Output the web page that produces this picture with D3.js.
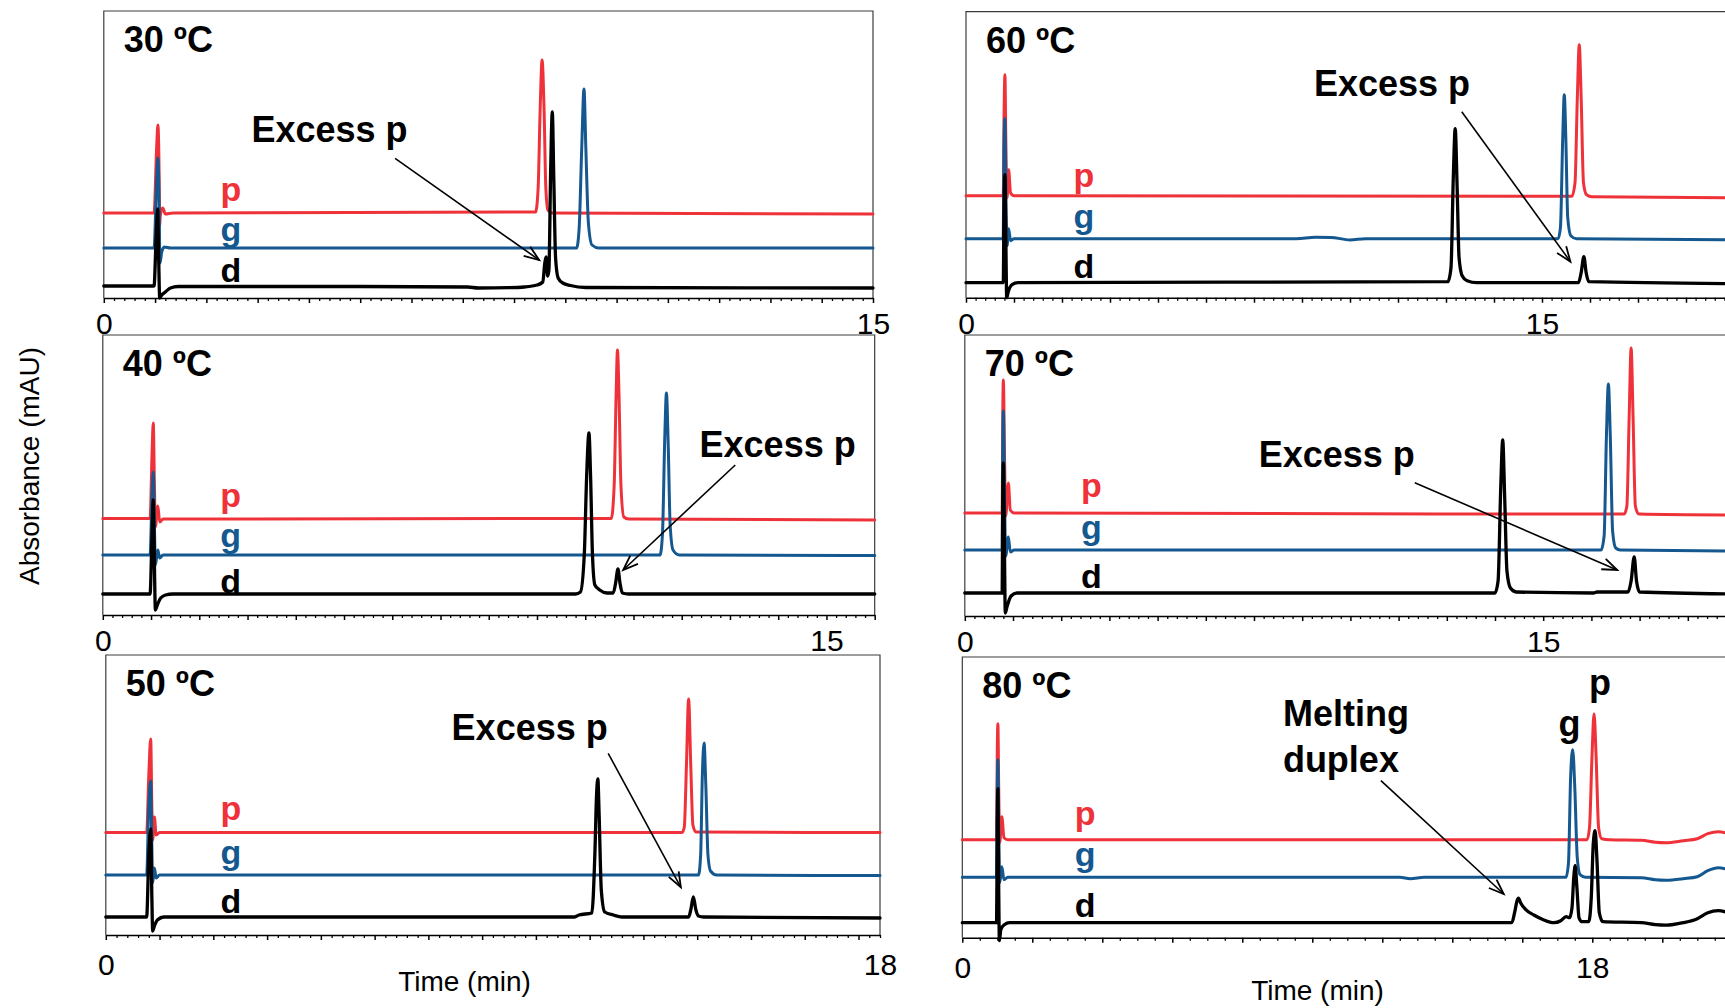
<!DOCTYPE html>
<html>
<head>
<meta charset="utf-8">
<script src="https://cdn.jsdelivr.net/npm/d3@7"></script>
<style>
  html, body { margin: 0; padding: 0; background: #fff; }
  svg { display: block; font-family: "Liberation Sans", Arial, Helvetica, sans-serif; }
</style>
</head>
<body>
<svg id="chart" width="1725" height="1008"></svg>
<script>
// ---- Panels: column temperature for each chromatogram set ----
const temperatures = ["30 ºC", "40 ºC", "50 ºC", "60 ºC", "70 ºC", "80 ºC"];
const seriesNames = ["p", "g", "d"];
const seriesColors = ["#ef3239", "#14588f", "#000000"];

// ---- Time axes (min) ----
const timeDomains = [[0, 15], [0, 16], [0, 18], [0, 20], [0, 20], [0, 22]];
const majorSteps = [1, 1, 1.25, 1.25, 1.25, 2];
const minorSteps = [0.2, 0.2, 0.25, 0.25, 0.25, 0.5];
const tickLabels = [[0, 15], [0, 15], [0, 18], [0, 15], [0, 15], [0, 18]];

// ---- Chromatograms: [time (min), absorbance (mAU, stacked offset)] ----
// 30 ºC
const p30 = [[0,85],[0.98,85],[1.03,150],[1.055,173],[1.08,120],[1.09,72],[1.1,82],[1.15,90],[1.2,84],[1.35,85],[8.42,86],[8.47,110],[8.51,190],[8.547,238],[8.585,190],[8.62,110],[8.66,88],[8.75,85],[15,84]];
const g30 = [[0,50],[0.98,50],[1.03,118],[1.055,140],[1.08,90],[1.095,35],[1.13,46],[1.18,51],[1.3,50],[9.22,50],[9.27,70],[9.32,150],[9.364,209],[9.4,150],[9.45,75],[9.52,53],[9.65,50],[15,50]];
const d30 = [[0,12],[0.98,12],[1.02,60],[1.05,89],[1.07,40],[1.09,0],[1.13,3],[1.2,6],[1.3,10],[1.45,11.5],[5.0,11.5],[7.1,11],[7.3,10],[7.9,10.3],[8.2,11],[8.45,13],[8.56,16],[8.6,35],[8.625,41],[8.655,22],[8.68,28],[8.715,130],[8.746,186],[8.775,120],[8.81,40],[8.86,20],[8.95,15],[9.1,12.5],[9.4,10.5],[15,10]];
// 40 ºC
const p40 = [[0,96.5],[0.98,96.5],[1.02,160],[1.046,192],[1.07,130],[1.09,88],[1.14,109],[1.18,93],[1.25,96],[10.54,96.5],[10.6,130],[10.64,220],[10.668,265],[10.7,220],[10.74,130],[10.8,98],[10.9,96],[16,95]];
const g40 = [[0,60],[0.98,60],[1.02,120],[1.046,143],[1.07,90],[1.09,50],[1.14,65],[1.18,57],[1.25,60],[11.55,60],[11.6,80],[11.65,180],[11.683,222],[11.72,170],[11.76,90],[11.82,65],[11.95,60],[16,59.5]];
const d40 = [[0,21],[0.98,21],[1.02,80],[1.046,115],[1.07,50],[1.09,5],[1.13,10],[1.2,17],[1.3,20],[1.45,21],[9.8,21],[9.9,23],[9.98,60],[10.03,140],[10.077,182],[10.11,140],[10.15,60],[10.2,30],[10.3,25],[10.45,22],[10.58,22],[10.63,32],[10.678,46],[10.72,32],[10.77,22],[10.9,21],[16,21]];
// 50 ºC
const p50 = [[0,102.5],[0.95,102.5],[1.0,160],[1.044,196],[1.07,130],[1.09,95],[1.13,118],[1.17,100],[1.25,102.5],[13.4,102.5],[13.45,108],[13.5,170],[13.55,236],[13.6,170],[13.65,110],[13.72,103],[18,102.5]];
const g50 = [[0,60],[0.95,60],[1.0,130],[1.044,154],[1.07,90],[1.09,52],[1.13,67],[1.17,57],[1.25,60],[13.78,60],[13.83,80],[13.87,160],[13.91,192],[13.95,150],[14.0,80],[14.06,64],[14.2,60],[18,59.5]];
const d50 = [[0,18],[0.95,18],[1.0,80],[1.044,106],[1.07,40],[1.09,4],[1.13,9],[1.2,15],[1.35,18],[10.9,18],[11.0,20],[11.3,22],[11.37,80],[11.41,140],[11.44,156],[11.47,120],[11.52,45],[11.6,23],[11.8,20],[12.0,18],[13.55,18],[13.6,25],[13.66,38],[13.72,25],[13.78,19],[13.9,18],[18,17]];
// 60 ºC
const p60 = [[0,102],[0.97,102],[0.99,180],[1.013,223],[1.04,150],[1.07,100],[1.11,128],[1.16,105],[1.25,102],[15.78,101.5],[15.86,115],[15.92,200],[15.97,253],[16.02,200],[16.08,115],[16.16,103],[16.3,101],[20,100]];
const g60 = [[0,59],[0.97,59],[0.99,150],[1.013,179],[1.04,100],[1.07,52],[1.11,69],[1.16,57],[1.25,59],[8.6,59],[9.1,60.5],[9.5,60.3],[10.0,57.8],[10.4,59],[15.42,59],[15.48,70],[15.54,160],[15.58,203],[15.62,160],[15.67,80],[15.75,62],[15.9,59],[20,58]];
const d60 = [[0,15],[0.97,15],[0.99,90],[1.013,123],[1.04,50],[1.06,0],[1.1,6],[1.2,13],[1.35,15],[12.55,16],[12.63,30],[12.69,120],[12.74,169],[12.79,110],[12.84,40],[12.92,22],[13.05,17],[13.3,15],[15.95,15],[16.02,25],[16.09,41],[16.15,25],[16.22,16],[20,14]];
// 70 ºC
const p70 = [[0,103],[0.97,103],[0.985,200],[1.0,236],[1.03,160],[1.06,100],[1.13,133],[1.18,106],[1.28,103],[17.1,102],[17.17,110],[17.23,200],[17.28,268],[17.33,200],[17.39,110],[17.48,102],[20,101]];
const g70 = [[0,66],[0.97,66],[0.985,170],[1.0,205],[1.03,120],[1.06,60],[1.13,79],[1.18,64],[1.28,66],[16.5,66],[16.58,80],[16.64,180],[16.69,232],[16.74,180],[16.8,85],[16.88,68],[17.0,66],[20,65]];
const d70 = [[0,23],[0.97,23],[0.985,120],[1.0,153],[1.03,60],[1.05,3],[1.1,10],[1.2,20],[1.35,23],[13.75,23],[13.83,35],[13.9,130],[13.95,176],[14.0,120],[14.06,45],[14.15,28],[14.3,24],[16.3,23],[16.4,24],[17.2,24],[17.28,35],[17.36,59],[17.42,35],[17.5,24],[20,22]];
// 80 ºC
const p80 = [[0,98],[0.98,98],[1.0,190],[1.017,214],[1.04,150],[1.07,95],[1.13,121],[1.19,100],[1.3,98],[17.85,98],[17.92,110],[17.99,180],[18.05,224],[18.11,180],[18.18,110],[18.27,99],[18.5,98],[19.4,97.5],[19.8,95.5],[20.1,95],[20.6,97],[21.0,99],[21.3,104],[21.6,106],[21.9,104],[22,103]];
const g80 = [[0,60.5],[0.98,60.5],[1.0,150],[1.017,178],[1.04,110],[1.07,55],[1.13,71],[1.19,58],[1.3,60.5],[12.5,60.5],[12.8,59],[13.2,60.5],[17.25,60.5],[17.32,75],[17.38,160],[17.44,188],[17.5,150],[17.57,80],[17.65,63],[17.8,60.5],[19.4,60],[19.8,58],[20.1,57.5],[20.6,59],[21.0,61],[21.3,67],[21.6,70],[21.9,68],[22,67]];
const d80 = [[0,15],[0.98,15],[1.0,110],[1.017,149],[1.04,50],[1.06,-3],[1.1,8],[1.2,13],[1.35,15],[15.7,15],[15.78,25],[15.85,37],[15.89,39.5],[15.95,35],[16.1,28],[16.33,22.7],[16.6,18],[16.9,15],[17.1,17],[17.25,21],[17.35,20],[17.42,30],[17.47,60],[17.51,72],[17.56,50],[17.62,20],[17.7,16],[17.9,16],[17.97,40],[18.03,95],[18.08,107],[18.13,80],[18.2,25],[18.3,16],[19.4,15],[19.8,13],[20.1,12.5],[20.6,15],[21.0,19],[21.3,25],[21.6,27],[21.9,25],[22,24]];

const panelSeries = [[p30, g30, d30], [p40, g40, d40], [p50, g50, d50],
                     [p60, g60, d60], [p70, g70, d70], [p80, g80, d80]];

// ---- Trace labels p / g / d: [time, absorbance] of the label baseline ----
const seriesLabelAt = [
  [[2.48, 97], [2.48, 57.5], [2.48, 16]],
  [[2.65, 108.5], [2.65, 68.5], [2.65, 22]],
  [[2.91, 115], [2.91, 71], [2.91, 22]],
  [[3.07, 111.2], [3.07, 69.7], [3.07, 19.4]],
  [[3.28, 119.5], [3.28, 77.5], [3.28, 27.7]],
  [[3.51, 112.7], [3.51, 71.7], [3.51, 20.4]]
];

// ---- Annotations ----
const noteText = [["Excess p"], ["Excess p"], ["Excess p"], ["Excess p"], ["Excess p"], ["Melting", "duplex"]];
const noteAt = [[2.88, 156.5], [12.37, 158], [8.04, 195], [9.06, 201.7], [7.62, 149], [9.16, 211.7]];
const arrowFrom = [[5.68, 139.7], [13.11, 150], [11.68, 181.7], [12.91, 186], [11.67, 133.3], [11.96, 157]];
const arrowTo = [[8.49, 38], [10.786, 45], [13.37, 47.7], [15.74, 36], [16.92, 46], [15.47, 43.7]];
// peak tags above the 80 ºC peaks
const peakTagText = ["g", "p"];
const peakTagAt = [[17.35, 202], [18.22, 242.7]];

// ---- Layout of each panel (pixels) ----
const frames = [
  { x0: 103.8, x1: 873,    top: 11,   axis: 298,   labelGap: 15 },
  { x0: 102.8, x1: 874.7,  top: 335,  axis: 615,   labelGap: 15 },
  { x0: 105.8, x1: 880,    top: 655,  axis: 935,   labelGap: 19 },
  { x0: 966,   x1: 1734,   top: 11.7, axis: 297.7, labelGap: 15 },
  { x0: 964.8, x1: 1736,   top: 335,  axis: 616,   labelGap: 15 },
  { x0: 962.3, x1: 1732.3, top: 657,  axis: 937.7, labelGap: 19 }
];

const svg = d3.select("#chart");
const bold = 36;

frames.forEach((f, i) => {
  const x = d3.scaleLinear().domain(timeDomains[i]).range([f.x0, f.x1]);
  const y = d3.scaleLinear().domain([0, f.axis - f.top]).range([f.axis, f.top]);
  const g = svg.append("g").attr("class", "panel");

  // frame (top, left, right)
  g.append("path")
    .attr("d", `M${f.x0},${f.axis}V${f.top}H${f.x1}V${f.axis}`)
    .attr("fill", "none").attr("stroke", "#3c3c3c").attr("stroke-width", 1.2);

  // traces, drawn p -> g -> d so that d sits on top
  const line = d3.line().x(d => x(d[0])).y(d => y(d[1])).curve(d3.curveMonotoneX);
  panelSeries[i].forEach((data, s) => {
    g.append("path").datum(data)
      .attr("d", line)
      .attr("fill", "none")
      .attr("stroke", seriesColors[s])
      .attr("stroke-width", s === 2 ? 3.3 : 3)
      .attr("stroke-linejoin", "round")
      .attr("stroke-linecap", "round");
  });

  // time axis: minor + major ticks, then the end labels
  const [t0, t1] = timeDomains[i];
  const major = d3.range(t0, t1 + 1e-9, majorSteps[i]);
  const minor = d3.range(t0, t1 + 1e-9, minorSteps[i])
    .filter(v => Math.abs(v / majorSteps[i] - Math.round(v / majorSteps[i])) > 1e-6);

  const axMinor = g.append("g").attr("transform", `translate(0,${f.axis})`)
    .call(d3.axisBottom(x).tickValues(minor).tickSize(3).tickSizeOuter(0).tickFormat(""));
  axMinor.select(".domain").attr("stroke", "#000").attr("stroke-width", 1.6);
  axMinor.selectAll(".tick line").attr("stroke", "#000").attr("stroke-width", 1.3);

  const axMajor = g.append("g").attr("transform", `translate(0,${f.axis})`)
    .call(d3.axisBottom(x).tickValues(major).tickSize(5).tickSizeOuter(0).tickFormat(""));
  axMajor.select(".domain").remove();
  axMajor.selectAll(".tick line").attr("stroke", "#000").attr("stroke-width", 1.5);

  const axLabels = g.append("g").attr("transform", `translate(0,${f.axis})`)
    .call(d3.axisBottom(x).tickValues(tickLabels[i]).tickSize(0).tickPadding(f.labelGap).tickFormat(d3.format("d")));
  axLabels.select(".domain").remove();
  axLabels.selectAll(".tick text")
    .attr("font-family", "'Liberation Sans', Arial, sans-serif")
    .attr("font-size", 30).attr("fill", "#000");

  // panel title
  g.append("text")
    .attr("x", f.x0 + 20).attr("y", f.top + 41)
    .attr("font-size", bold).attr("font-weight", "bold")
    .text(temperatures[i]);

  // trace labels
  seriesNames.forEach((nm, s) => {
    const at = seriesLabelAt[i][s];
    g.append("text")
      .attr("x", x(at[0])).attr("y", y(at[1]))
      .attr("text-anchor", "middle")
      .attr("font-size", 34).attr("font-weight", "bold")
      .attr("fill", seriesColors[s])
      .text(nm);
  });

  // annotation text + arrow
  const nt = g.append("text")
    .attr("x", x(noteAt[i][0])).attr("y", y(noteAt[i][1]))
    .attr("font-size", bold).attr("font-weight", "bold");
  noteText[i].forEach((t, k) => {
    nt.append("tspan").attr("x", x(noteAt[i][0])).attr("dy", k === 0 ? 0 : 45.7).text(t);
  });

  const sx = x(arrowFrom[i][0]), sy = y(arrowFrom[i][1]);
  const ex = x(arrowTo[i][0]), ey = y(arrowTo[i][1]);
  const ang = Math.atan2(ey - sy, ex - sx);
  const head = 16, spread = 0.36;
  g.append("line")
    .attr("x1", sx).attr("y1", sy).attr("x2", ex).attr("y2", ey)
    .attr("stroke", "#000").attr("stroke-width", 1.6);
  g.append("path")
    .attr("d", `M${ex - head * Math.cos(ang - spread)},${ey - head * Math.sin(ang - spread)}` +
               `L${ex},${ey}` +
               `L${ex - head * Math.cos(ang + spread)},${ey - head * Math.sin(ang + spread)}`)
    .attr("fill", "none").attr("stroke", "#000").attr("stroke-width", 1.8)
    .attr("stroke-linejoin", "miter");

  // peak tags for the 80 ºC run
  if (i === 5) {
    peakTagText.forEach((t, k) => {
      g.append("text")
        .attr("x", x(peakTagAt[k][0])).attr("y", y(peakTagAt[k][1]))
        .attr("text-anchor", "middle")
        .attr("font-size", bold).attr("font-weight", "bold")
        .text(t);
    });
  }
});

// shared axis titles
svg.append("text")
  .attr("transform", "translate(39,466) rotate(-90)")
  .attr("text-anchor", "middle")
  .attr("font-size", 28)
  .text("Absorbance (mAU)");

svg.append("text")
  .attr("x", 464.5).attr("y", 991)
  .attr("text-anchor", "middle").attr("font-size", 28)
  .text("Time (min)");

svg.append("text")
  .attr("x", 1317.5).attr("y", 1000)
  .attr("text-anchor", "middle").attr("font-size", 28)
  .text("Time (min)");
</script>
</body>
</html>
